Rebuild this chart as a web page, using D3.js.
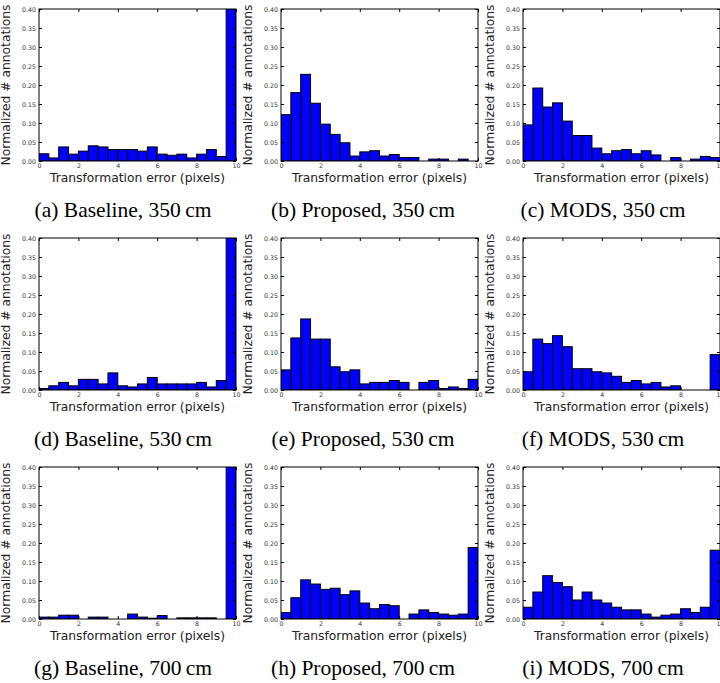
<!DOCTYPE html>
<html>
<head>
<meta charset="utf-8">
<script src="https://cdn.jsdelivr.net/npm/d3@7"></script>
<style>
  body { margin: 0; background: #fff; }
  svg { display: block; }
</style>
</head>
<body>
<svg id="chart"></svg>
<script>
// bin edges of the histograms (pixels)
var binEdges = [0, 0.5, 1, 1.5, 2, 2.5, 3, 3.5, 4, 4.5, 5, 5.5, 6, 6.5, 7, 7.5, 8, 8.5, 9, 9.5, 10];
var xTicks = [0, 2, 4, 6, 8, 10];
var yTicks = [0, 0.05, 0.10, 0.15, 0.20, 0.25, 0.30, 0.35, 0.40];

var captions = [
  "(a) Baseline, 350\u2009cm", "(b) Proposed, 350\u2009cm", "(c) MODS, 350\u2009cm",
  "(d) Baseline, 530\u2009cm", "(e) Proposed, 530\u2009cm", "(f) MODS, 530\u2009cm",
  "(g) Baseline, 700\u2009cm", "(h) Proposed, 700\u2009cm", "(i) MODS, 700\u2009cm"
];

// normalized counts per bin (last bin = errors >= 10, goes off the chart for baseline)
var baseline350 = [0.019, 0.008, 0.037, 0.018, 0.026, 0.040, 0.037, 0.030, 0.030, 0.030, 0.026, 0.037, 0.018, 0.015, 0.018, 0.008, 0.018, 0.030, 0.012, 0.60];
var proposed350 = [0.122, 0.180, 0.228, 0.152, 0.097, 0.070, 0.048, 0.013, 0.024, 0.027, 0.013, 0.017, 0.009, 0.009, 0, 0.005, 0.005, 0, 0.005, 0];
var mods350     = [0.095, 0.192, 0.142, 0.153, 0.105, 0.067, 0.067, 0.034, 0.019, 0.027, 0.030, 0.019, 0.027, 0.016, 0, 0.009, 0, 0.005, 0.012, 0.009];

var baseline530 = [0.004, 0.011, 0.020, 0.011, 0.028, 0.028, 0.016, 0.045, 0.011, 0.008, 0.016, 0.033, 0.016, 0.016, 0.016, 0.016, 0.020, 0.008, 0.025, 0.60];
var proposed530 = [0.053, 0.137, 0.187, 0.134, 0.134, 0.061, 0.048, 0.053, 0.016, 0.020, 0.020, 0.025, 0.020, 0, 0.020, 0.025, 0.004, 0.008, 0.004, 0.028];
var mods530     = [0.048, 0.134, 0.122, 0.143, 0.114, 0.056, 0.056, 0.048, 0.045, 0.036, 0.020, 0.025, 0.016, 0.020, 0.008, 0.011, 0, 0, 0, 0.093];

var baseline700 = [0.005, 0.005, 0.010, 0.010, 0, 0.005, 0.005, 0, 0, 0.013, 0.005, 0.002, 0.009, 0, 0.003, 0.003, 0.003, 0.003, 0, 0.60];
var proposed700 = [0.017, 0.056, 0.103, 0.092, 0.078, 0.081, 0.064, 0.074, 0.042, 0.027, 0.038, 0.035, 0, 0.013, 0.024, 0.017, 0.013, 0.010, 0.013, 0.188];
var mods700     = [0.031, 0.071, 0.114, 0.096, 0.085, 0.050, 0.071, 0.050, 0.042, 0.031, 0.024, 0.024, 0.013, 0.005, 0.010, 0.013, 0.027, 0.017, 0.031, 0.181];

var panels = [baseline350, proposed350, mods350,
              baseline530, proposed530, mods530,
              baseline700, proposed700, mods700];

var svgWidth = 720, svgHeight = 683;
var colLeft = [39, 281, 523];
var rowTop = [9, 238, 467];
var plotW = 197, plotH = 152;

var svg = d3.select("#chart")
    .attr("width", svgWidth)
    .attr("height", svgHeight);

var x = d3.scaleLinear().domain([0, 10]).range([0, plotW]);
var y = d3.scaleLinear().domain([0, 0.4]).range([plotH, 0]);

panels.forEach(function (vals, i) {
    var col = i % 3, row = Math.floor(i / 3);
    var g = svg.append("g")
        .attr("transform", "translate(" + colLeft[col] + "," + rowTop[row] + ")");

    // clip so overflow bars stop at the top
    var clipId = "clip" + i;
    g.append("clipPath").attr("id", clipId)
        .append("rect").attr("width", plotW).attr("height", plotH);

    var bins = vals.map(function (v, k) { return { x0: binEdges[k], x1: binEdges[k + 1], v: v }; });

    g.append("g")
        .attr("clip-path", "url(#" + clipId + ")")
        .selectAll("rect")
        .data(bins)
        .enter().append("rect")
        .attr("x", function (d) { return x(d.x0); })
        .attr("width", function (d) { return x(d.x1) - x(d.x0); })
        .attr("y", function (d) { return y(d.v); })
        .attr("height", function (d) { return y(0) - y(d.v); })
        .attr("fill", "#0000ff")
        .attr("stroke", "#000")
        .attr("stroke-width", 1);

    // axes, ticks pointing in
    var bottom = g.append("g")
        .attr("transform", "translate(0," + plotH + ")")
        .call(d3.axisBottom(x).tickValues(xTicks).tickSizeInner(-3).tickSizeOuter(0).tickPadding(3).tickFormat(d3.format("d")));
    var left = g.append("g")
        .call(d3.axisLeft(y).tickValues(yTicks).tickSizeInner(-3).tickSizeOuter(0).tickPadding(3).tickFormat(d3.format(".2f")));
    var top = g.append("g")
        .call(d3.axisTop(x).tickValues(xTicks).tickSizeInner(-3).tickSizeOuter(0).tickFormat(""));
    var right = g.append("g")
        .attr("transform", "translate(" + plotW + ",0)")
        .call(d3.axisRight(y).tickValues(yTicks).tickSizeInner(-3).tickSizeOuter(0).tickFormat(""));

    [bottom, left, top, right].forEach(function (a) {
        a.select(".domain").remove();
        a.selectAll("line").attr("stroke", "#000");
        a.selectAll("text")
            .attr("font-family", "DejaVu Sans, sans-serif")
            .attr("font-size", 6.3)
            .attr("fill", "#333");
    });

    // frame
    g.append("rect")
        .attr("width", plotW).attr("height", plotH)
        .attr("fill", "none").attr("stroke", "#000").attr("stroke-width", 1);

    g.append("text")
        .attr("x", plotW / 2)
        .attr("y", plotH + 21)
        .attr("text-anchor", "middle")
        .attr("font-family", "DejaVu Sans, sans-serif")
        .attr("font-size", 12.3)
        .attr("fill", "#222")
        .text("Transformation error (pixels)");

    g.append("text")
        .attr("transform", "translate(-25," + (plotH / 2) + ") rotate(-90)")
        .attr("dy", "-0.3em")
        .attr("text-anchor", "middle")
        .attr("font-family", "DejaVu Sans, sans-serif")
        .attr("font-size", 12.3)
        .attr("fill", "#222")
        .text("Normalized # annotations");

    svg.append("text")
        .attr("x", col * 240 + 123)
        .attr("y", rowTop[row] + 208)
        .attr("text-anchor", "middle")
        .attr("font-family", "Liberation Serif, Times New Roman, serif")
        .attr("font-size", 21.5)
        .attr("fill", "#000")
        .text(captions[i]);
});
</script>
</body>
</html>
